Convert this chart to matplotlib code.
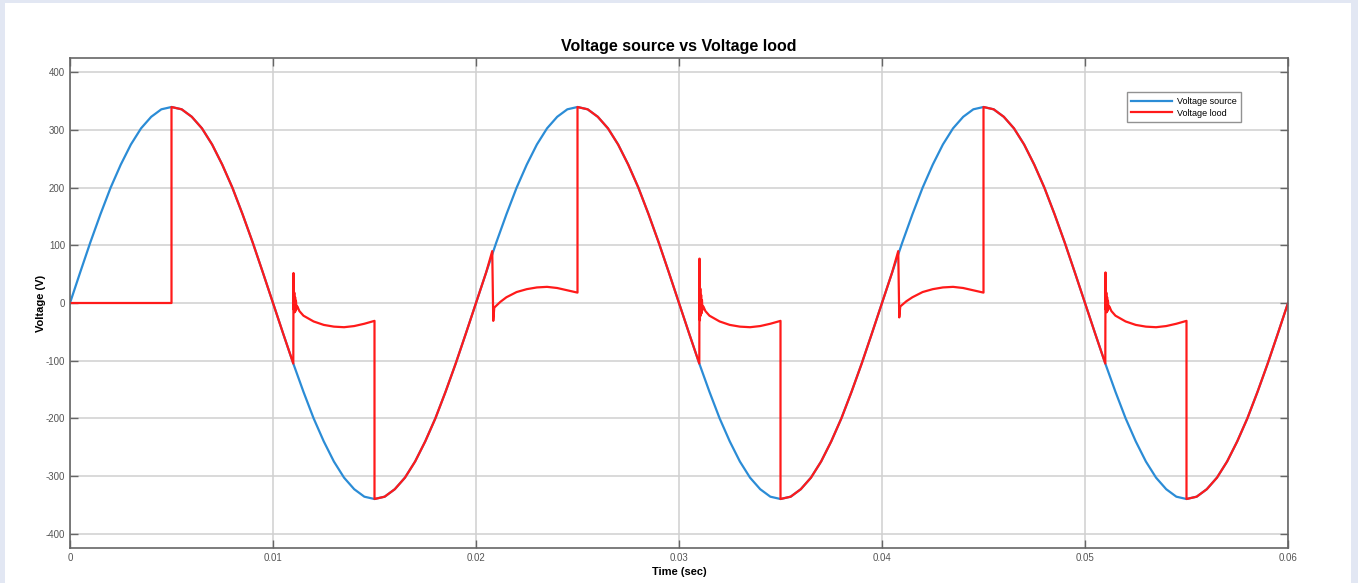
import matplotlib.pyplot as plt
import numpy as np
from matplotlib.patches import Rectangle

# source voltage read every 0.5 ms, 0 .. 0.06 s
t_src = np.linspace(0, 0.06, 121)
v_src = [0, 53, 105, 154, 200, 240, 275, 303, 323, 336,
         340, 336, 323, 303, 275, 240, 200, 154, 105, 53,
         0, -53, -105, -154, -200, -240, -275, -303, -323, -336,
         -340, -336, -323, -303, -275, -240, -200, -154, -105, -53,
         0, 53, 105, 154, 200, 240, 275, 303, 323, 336,
         340, 336, 323, 303, 275, 240, 200, 154, 105, 53,
         0, -53, -105, -154, -200, -240, -275, -303, -323, -336,
         -340, -336, -323, -303, -275, -240, -200, -154, -105, -53,
         0, 53, 105, 154, 200, 240, 275, 303, 323, 336,
         340, 336, 323, 303, 275, 240, 200, 154, 105, 53,
         0, -53, -105, -154, -200, -240, -275, -303, -323, -336,
         -340, -336, -323, -303, -275, -240, -200, -154, -105, -53,
         0]

# intervals where the load follows the source
conduction = [(0.005, 0.011), (0.015, 0.0205), (0.025, 0.031),
              (0.035, 0.0405), (0.045, 0.051), (0.055, 0.06)]

# load voltage while the switches are off
off_t = [
    [0.0, 0.005],
    [0.01101, 0.01103, 0.01105, 0.01107, 0.01109, 0.01111, 0.01113, 0.01116,
     0.0112, 0.0113, 0.0115, 0.012, 0.0125, 0.013, 0.0135, 0.014, 0.0145, 0.015],
    [0.0208, 0.02085, 0.0209, 0.0212, 0.0215, 0.022, 0.0225, 0.023,
     0.0235, 0.024, 0.0245, 0.025],
    [0.03101, 0.03103, 0.03105, 0.03107, 0.03109, 0.03111, 0.03113, 0.03116,
     0.0312, 0.0313, 0.0315, 0.032, 0.0325, 0.033, 0.0335, 0.034, 0.0345, 0.035],
    [0.0408, 0.04085, 0.0409, 0.0412, 0.0415, 0.042, 0.0425, 0.043,
     0.0435, 0.044, 0.0445, 0.045],
    [0.05101, 0.05103, 0.05105, 0.05107, 0.05109, 0.05111, 0.05113, 0.05116,
     0.0512, 0.0513, 0.0515, 0.052, 0.0525, 0.053, 0.0535, 0.054, 0.0545, 0.055],
]
off_v = [
    [0, 0],
    [52, -12, 18, -16, 10, -14, 4, -10, -6, -14, -22, -32, -38, -41, -42, -40, -36, -31],
    [90, -31, -8, 2, 10, 19, 24, 27, 28, 26, 22, 18],
    [77, -30, 25, -22, 14, -18, 5, -12, -6, -14, -22, -32, -38, -41, -42, -40, -36, -31],
    [90, -25, -6, 3, 10, 19, 24, 27, 28, 26, 22, 18],
    [53, -12, 18, -16, 10, -14, 4, -10, -6, -14, -22, -32, -38, -41, -42, -40, -36, -31],
]

# build the load trace: off-state readings + source readings while conducting
t_load, v_load = [], []
src = np.array(v_src, dtype=float)
for k in range(len(conduction)):
    t_load += off_t[k]
    v_load += off_v[k]
    a, b = conduction[k]
    m = (t_src >= a - 1e-9) & (t_src <= b + 1e-9)
    t_load += list(t_src[m])
    v_load += list(src[m])

plt.rcParams['font.family'] = ['Liberation Sans', 'DejaVu Sans']
plt.rcParams['axes.unicode_minus'] = False

fig = plt.figure(figsize=(13.58, 5.83), dpi=100)
fig.patches.append(Rectangle((0, 0), 1, 1, transform=fig.transFigure,
                             facecolor='#e2e7f3', edgecolor='none', zorder=-2))
fig.patches.append(Rectangle((5 / 1358, 0), 1346 / 1358, 580 / 583,
                             transform=fig.transFigure,
                             facecolor='white', edgecolor='none', zorder=-1))

ax = fig.add_axes([70 / 1358, 35 / 583, 1218 / 1358, 490 / 583])
ax.plot(t_src, v_src, color='#2b8cd6', lw=1.6, label='Voltage source')
ax.plot(t_load, v_load, color='#ff1a1a', lw=1.6, label='Voltage lood')

ax.set_xlim(0, 0.06)
ax.set_ylim(-425, 425)
ax.set_xticks([0, 0.01, 0.02, 0.03, 0.04, 0.05, 0.06])
ax.set_xticklabels(['0', '0.01', '0.02', '0.03', '0.04', '0.05', '0.06'])
ax.set_yticks(range(-400, 401, 100))
ax.grid(True, color='#d0d0d0', lw=1.1)
ax.tick_params(direction='in', length=6, width=1, colors='#666666',
               labelsize=7, top=True, right=True, labelcolor='#555555')
for s in ax.spines.values():
    s.set_color('#666666')
    s.set_linewidth(1.2)

ax.set_title('Voltage source vs Voltage lood', fontsize=11.5, fontweight='bold', pad=5)
ax.set_xlabel('Time (sec)', fontsize=8, fontweight='bold', labelpad=3)
ax.set_ylabel('Voltage (V)', fontsize=8, fontweight='bold', labelpad=0)

leg = ax.legend(loc='upper right', bbox_to_anchor=(0.965, 0.939), fontsize=6.5,
                frameon=True, fancybox=False, handlelength=4.5, borderpad=0.5,
                labelspacing=0.3, handletextpad=0.5)
leg.get_frame().set_edgecolor('#777777')
leg.get_frame().set_linewidth(1)

fig.savefig('out.png', dpi=100)
